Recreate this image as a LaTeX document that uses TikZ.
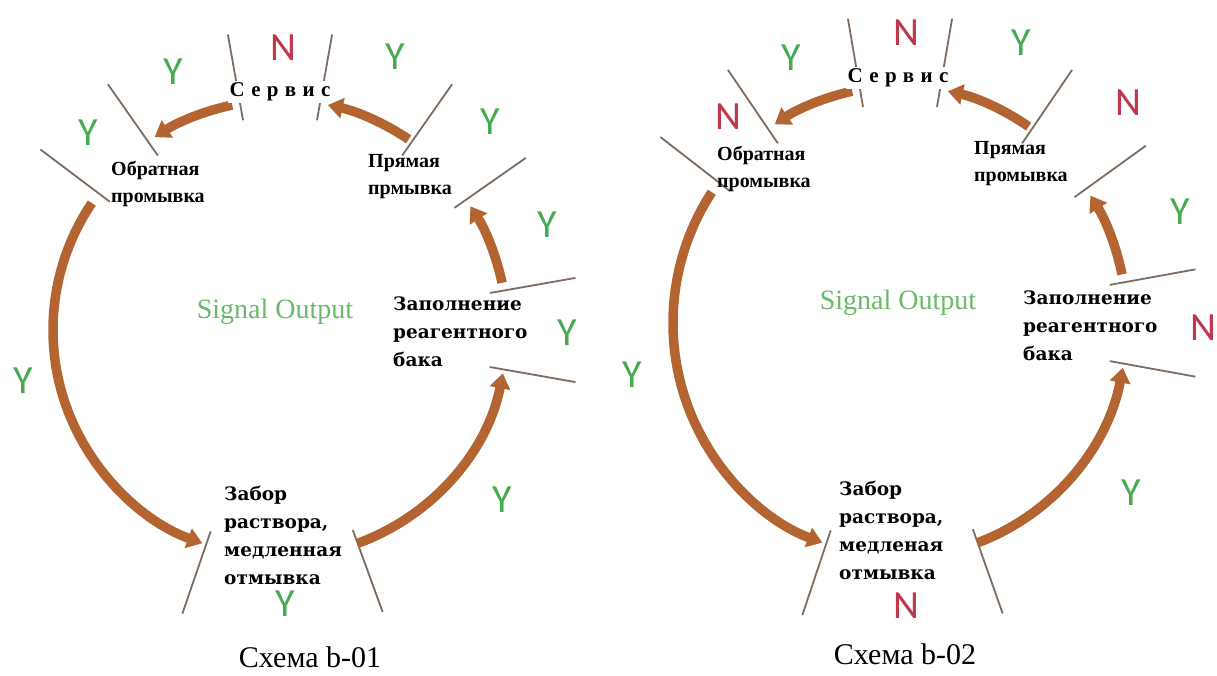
\documentclass[tikz,border=0pt]{standalone}
\usepackage{fontspec}
\setmainfont{Liberation Serif}
\newfontfamily\wideserif{DejaVu Serif}
\newfontfamily\ynfont{Carlito}
\newfontfamily\svcfont[LetterSpace=30]{Liberation Serif}
\usetikzlibrary{arrows.meta}
\definecolor{flowc}{RGB}{180,100,48}
\definecolor{tickc}{RGB}{125,108,95}
\definecolor{yesc}{RGB}{70,170,80}
\definecolor{noc}{RGB}{190,55,75}
\definecolor{sigc}{RGB}{105,185,105}
\tikzset{
  flow/.style={draw=flowc, line width=9.5pt, -{Triangle[length=15pt,width=20pt]}},
  tickline/.style={draw=tickc, line width=1.8pt},
  yes/.style={text=yesc, font=\ynfont\fontsize{40}{40}\selectfont, inner sep=0pt},
  no/.style={text=noc, font=\ynfont\fontsize{40}{40}\selectfont, inner sep=0pt},
  svc/.style={font=\svcfont\bfseries\fontsize{21}{21}\selectfont, fill=white, inner sep=2pt},
  lbl/.style={font=\bfseries\fontsize{20}{27}\selectfont, align=left, anchor=west, inner sep=1pt},
  wlbl/.style={font=\wideserif\bfseries\fontsize{18.5}{28}\selectfont, align=left, anchor=west, inner sep=1pt},
  sig/.style={text=sigc, font=\fontsize{28}{28}\selectfont},
  capt/.style={font=\fontsize{30}{30}\selectfont},
}
\begin{document}
\begin{tikzpicture}[x=1pt,y=1pt]
\useasboundingbox (0,0) rectangle (1217,-675);
\fill[white] (0,0) rectangle (1217,-675);
% ---------------- Scheme b-01
\begin{scope}[shift={(280,-330)}]
  \foreach \a in {100,80,55,35,10,-10,-70,-109,143,125}
    \draw[tickline] (\a:213pt) -- (\a:300pt);
  \coordinate (a-p1) at (146:227pt);
  \coordinate (a-p2) at (-70:227pt);
  \coordinate (a-p3) at (12:227pt);
  \coordinate (a-p4) at (56:230pt);
  \coordinate (a-p5) at (102:230pt);
  \draw[flow] (a-p1) arc[start angle=146, end angle=250, radius=227pt];
  \draw[flow] (a-p2) arc[start angle=-70, end angle=-11, radius=227pt];
  \draw[flow] (a-p3) arc[start angle=12, end angle=33, radius=227pt];
  \draw[flow] (a-p4) arc[start angle=56, end angle=78, radius=230pt];
  \draw[flow] (a-p5) arc[start angle=102, end angle=123, radius=230pt];
  \node[svc] (a-svc) at (0,238) {Сервис};
  \node[lbl] (a-back) at (-170,146) {Обратная\\промывка};
  \node[lbl] (a-fwd) at (87,153) {Прямая\\прмывка};
  \node[wlbl] (a-fill) at (112,-2) {Заполнение\\реагентного\\бака};
  \node[wlbl] (a-take) at (-57,-205) {Забор\\раствора,\\медленная\\отмывка};
  \node[sig] (a-sig) at (-5,18) {Signal Output};
  \node[capt] (a-cap) at (30,-327) {Схема b-01};
  \node[no]  (a-l1) at (3,282) {N};
  \node[yes] (a-l2) at (-107,258) {Y};
  \node[yes] (a-l3) at (-192,197) {Y};
  \node[yes] (a-l4) at (115,273) {Y};
  \node[yes] (a-l5) at (210,208) {Y};
  \node[yes] (a-l6) at (267,105) {Y};
  \node[yes] (a-l7) at (287,-3) {Y};
  \node[yes] (a-l8) at (222,-170) {Y};
  \node[yes] (a-l9) at (5,-274) {Y};
  \node[yes] (a-l10) at (-257,-51) {Y};
\end{scope}
% ---------------- Scheme b-02
\begin{scope}[shift={(900,-323)}, yscale=1.03]
  \foreach \a in {100,80,55,35,10,-10,-70,-109,143,125}
    \draw[tickline] (\a:213pt) -- (\a:300pt);
  \coordinate (b-p1) at (146:227pt);
  \coordinate (b-p2) at (-70:227pt);
  \coordinate (b-p3) at (12:227pt);
  \coordinate (b-p4) at (56:230pt);
  \coordinate (b-p5) at (102:230pt);
  \draw[flow] (b-p1) arc[start angle=146, end angle=250, radius=227pt];
  \draw[flow] (b-p2) arc[start angle=-70, end angle=-11, radius=227pt];
  \draw[flow] (b-p3) arc[start angle=12, end angle=33, radius=227pt];
  \draw[flow] (b-p4) arc[start angle=56, end angle=78, radius=230pt];
  \draw[flow] (b-p5) arc[start angle=102, end angle=123, radius=230pt];
  \node[svc] (b-svc) at (-2,238) {Сервис};
  \node[lbl] (b-back) at (-184,150) {Обратная\\промывка};
  \node[lbl] (b-fwd) at (73,155) {Прямая\\промывка};
  \node[wlbl] (b-fill) at (122,-3) {Заполнение\\реагентного\\бака};
  \node[wlbl] (b-take) at (-62,-201) {Забор\\раствора,\\медленая\\отмывка};
  \node[sig] (b-sig) at (-2,20) {Signal Output};
  \node[capt] (b-cap) at (5,-322) {Схема b-02};
  \node[no]  (b-l1) at (6,282) {N};
  \node[yes] (b-l2) at (-109,258) {Y};
  \node[no]  (b-l3) at (-172,200) {N};
  \node[yes] (b-l4) at (121,272) {Y};
  \node[no]  (b-l5) at (228,214) {N};
  \node[yes] (b-l6) at (280,108) {Y};
  \node[no]  (b-l7) at (303,-5) {N};
  \node[yes] (b-l8) at (231,-165) {Y};
  \node[no]  (b-l9) at (6,-274) {N};
  \node[yes] (b-l10) at (-268,-50) {Y};
\end{scope}
\end{tikzpicture}
\end{document}
